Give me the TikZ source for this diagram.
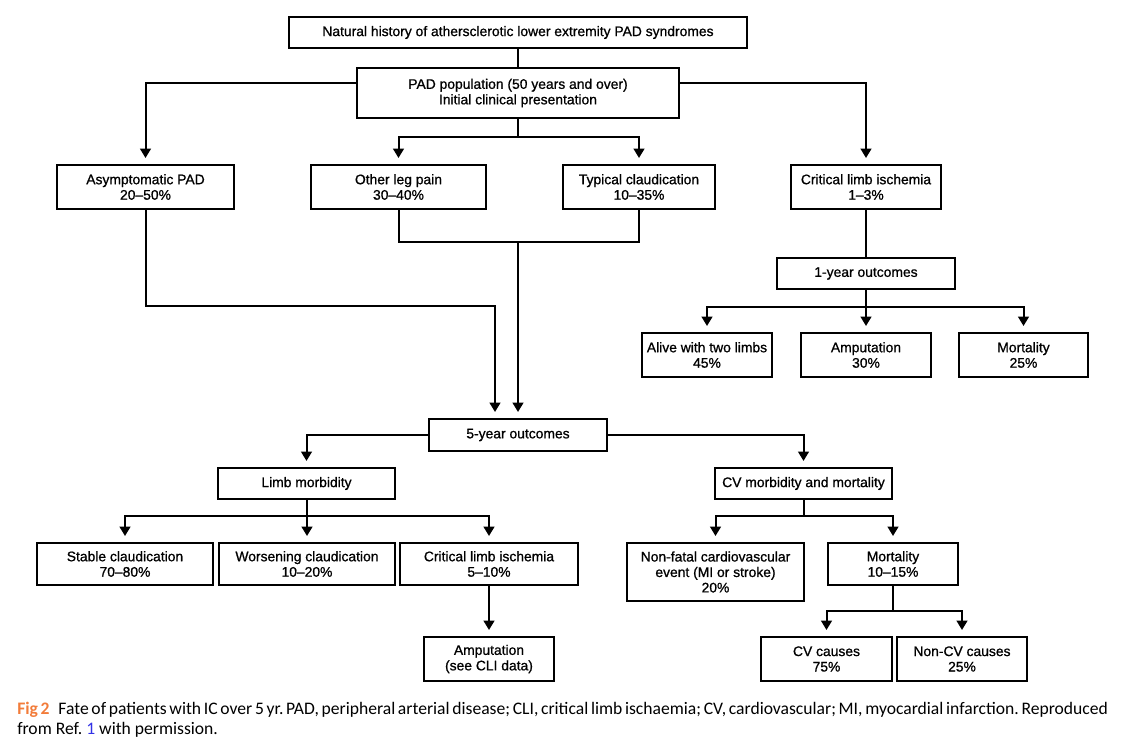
\documentclass[tikz,border=0pt]{standalone}
\usepackage{fontspec}
\setmainfont{Liberation Sans}
\newfontfamily\boxfont{Liberation Sans}[Ligatures=TeX, FakeBold=0.9]
\newfontfamily\capfont{Carlito}[Ligatures=TeX]
\usepackage{xcolor}
\usetikzlibrary{arrows.meta, calc}
\definecolor{figorange}{RGB}{242,124,58}
\definecolor{refblue}{RGB}{50,50,230}
\tikzset{
  pbox/.style={rectangle, draw=black, line width=1.5pt, align=center,
               inner sep=0pt, font=\boxfont\fontsize{10.4}{11.6}\selectfont},
  arr/.style={-{Triangle[length=7pt,width=8pt]}, line width=1.5pt,
              shorten >=4.5pt},
  lnk/.style={line width=1.5pt},
  captext/.style={anchor=base west, inner sep=0pt,
              font=\capfont\fontsize{13.2}{15}\selectfont},
}

\begin{document}
\frenchspacing
\begin{tikzpicture}[x=0.75pt, y=-0.75pt]
  \useasboundingbox (0,0) rectangle (1148,742);
  % top boxes
  \node[pbox, minimum width=344pt, minimum height=23.3pt] (title) at (518,32.5)
        {Natural history of athersclerotic lower extremity PAD syndromes};
  \node[pbox, minimum width=241pt, minimum height=37.5pt] (pop) at (518,93)
        {PAD population (50 years and over)\\Initial clinical presentation};
  % initial clinical presentation
  \node[pbox, minimum width=133pt, minimum height=33pt] (asym) at (145.5,187)
        {Asymptomatic PAD\\20--50\%};
  \node[pbox, minimum width=131pt, minimum height=33pt] (other) at (398.5,187)
        {Other leg pain\\30--40\%};
  \node[pbox, minimum width=114pt, minimum height=33pt] (typical) at (639,187)
        {Typical claudication\\10--35\%};
  \node[pbox, minimum width=112.5pt, minimum height=33pt] (cliA) at (866,187)
        {Critical limb ischemia\\1--3\%};
  % 1-year outcomes
  \node[pbox, minimum width=133pt, minimum height=23.3pt] (oneyr) at (866,273.5)
        {1-year outcomes};
  \node[pbox, minimum width=97.5pt, minimum height=33pt] (alive) at (707,355)
        {Alive with two limbs\\45\%};
  \node[pbox, minimum width=97.5pt, minimum height=33pt] (amp1) at (866,355)
        {Amputation\\30\%};
  \node[pbox, minimum width=97pt, minimum height=33pt] (mort1) at (1023.5,355)
        {Mortality\\25\%};
  % 5-year outcomes
  \node[pbox, minimum width=133pt, minimum height=24pt] (fiveyr) at (518,435)
        {5-year outcomes};
  \node[pbox, minimum width=133pt, minimum height=23.3pt] (limb) at (306.5,483.5)
        {Limb morbidity};
  \node[pbox, minimum width=133pt, minimum height=23.3pt] (cvmm) at (803.5,483.5)
        {CV morbidity and mortality};
  \node[pbox, minimum width=132pt, minimum height=31.5pt] (stable) at (125,564)
        {Stable claudication\\70--80\%};
  \node[pbox, minimum width=132pt, minimum height=31.5pt] (worse) at (307,564)
        {Worsening claudication\\10--20\%};
  \node[pbox, minimum width=133.5pt, minimum height=31.5pt] (cliB) at (489,564)
        {Critical limb ischemia\\5--10\%};
  \node[pbox, minimum width=97.5pt, minimum height=33pt] (amp2) at (489,659)
        {Amputation\\(see CLI data)};
  \node[pbox, minimum width=133pt, minimum height=43.5pt] (nonfatal) at (715.5,572)
        {Non-fatal cardiovascular\\event (MI or stroke)\\20\%};
  \node[pbox, minimum width=97.5pt, minimum height=31.5pt] (mort2) at (893,564)
        {Mortality\\10--15\%};
  \node[pbox, minimum width=98pt, minimum height=33pt] (cvc) at (826.5,659)
        {CV causes\\75\%};
  \node[pbox, minimum width=97.5pt, minimum height=33pt] (noncv) at (962,659)
        {Non-CV causes\\25\%};
  % connectors, top part
  \draw[lnk] (title) -- (pop);
  \draw[arr] ($(pop.west)+(0,-10)$) -| (asym.north);
  \draw[arr] ($(pop.east)+(0,-10)$) -| (cliA.north);
  \draw[lnk] (pop.south) -- ++(0,18) coordinate (popfork);
  \draw[arr] (popfork) -| (other.north);
  \draw[arr] (popfork) -| (typical.north);
  \draw[arr] (asym.south) -- ++(0,96) -| ($(fiveyr.north)+(-23,0)$);
  \draw[lnk] (other.south) -- ++(0,32) coordinate (merge) -| (typical.south);
  \draw[arr] (merge -| fiveyr.north) -- (fiveyr.north);
  % critical limb ischemia branch
  \draw[lnk] (cliA) -- (oneyr);
  \draw[lnk] (oneyr.south) -- ++(0,17) coordinate (onefork);
  \foreach \n in {alive, amp1, mort1}
    \draw[arr] (onefork) -| (\n.north);
  % 5-year branches
  \draw[arr] (fiveyr.west) -| (limb.north);
  \draw[arr] (fiveyr.east) -| (cvmm.north);
  \draw[lnk] (limb.south) -- ++(0,16) coordinate (limbfork);
  \foreach \n in {stable, worse, cliB}
    \draw[arr] (limbfork) -| (\n.north);
  \draw[arr] (cliB) -- (amp2);
  \draw[lnk] (cvmm.south) -- ++(0,16) coordinate (cvfork);
  \foreach \n in {nonfatal, mort2}
    \draw[arr] (cvfork) -| (\n.north);
  \draw[lnk] (mort2.south) -- ++(0,25) coordinate (mortfork);
  \foreach \n in {cvc, noncv}
    \draw[arr] (mortfork) -| (\n.north);
  % caption
  \node[captext] (capA) at (17,714) {\makebox[818pt][s]{\textcolor{figorange}{\bfseries Fig 2}\hspace{0.5em}Fate of patients with IC over 5 yr. PAD, peripheral arterial disease; CLI, critical limb ischaemia; CV, cardiovascular; MI, myocardial infarction. Reproduced}};
  \node[captext] (capB) at (17,734) {from Ref. \textcolor{refblue}{1} with permission.};
\end{tikzpicture}
\end{document}
